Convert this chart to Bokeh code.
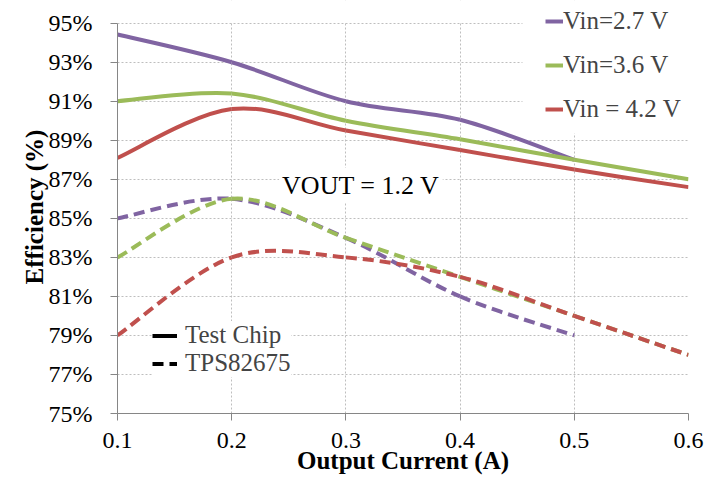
from bokeh.plotting import figure
from bokeh.models import (Range1d, FixedTicker, Legend, LegendItem, Label, BoxAnnotation)
from bokeh.embed import file_html
from bokeh.resources import INLINE

# ---- data ----
current = [0.1, 0.2, 0.3, 0.4, 0.5, 0.6]
test_27 = [94.42, 93.0, 91.0, 90.05, 88.0]          # Vin=2.7 V, Test Chip (to 0.5 A)
test_36 = [91.0, 91.4, 90.0, 89.05, 88.0, 87.0]      # Vin=3.6 V, Test Chip
test_42 = [88.1, 90.6, 89.5, 88.5, 87.5, 86.6]       # Vin=4.2 V, Test Chip
tps_27 = [85.0, 86.0, 84.0, 81.0, 79.0]              # Vin=2.7 V, TPS82675 (to 0.5 A)
tps_36 = [83.0, 86.0, 84.0, 82.0, 80.0, 78.0]        # Vin=3.6 V, TPS82675
tps_42 = [79.0, 83.0, 83.0, 82.0, 80.0, 78.0]        # Vin=4.2 V, TPS82675
y_ticks = [75, 77, 79, 81, 83, 85, 87, 89, 91, 93, 95]
x_ticks = [0.1, 0.2, 0.3, 0.4, 0.5, 0.6]
series_labels = ["Vin=2.7 V", "Vin=3.6 V", "Vin = 4.2 V"]
type_labels = ["Test Chip", "TPS82675"]

PURPLE = "#8064A2"
GREEN = "#9BBB59"
RED = "#C0504D"
FONT = "Liberation Serif"

Y_MIN, Y_MAX = 75, 95
FRAME_H = 413          # frame reaches the top of the page so the legend is not clipped
AXIS_TOP_PX = 22.7     # where 95 % sits below the page top
y_end = Y_MAX + (Y_MAX - Y_MIN) * AXIS_TOP_PX / (FRAME_H - AXIS_TOP_PX)


def smooth_segments(xs, ys):
    """Excel-like smoothed line: cubic Bezier control points (Catmull-Rom, 1/6)."""
    n = len(xs)
    d = dict(x0=[], y0=[], x1=[], y1=[], cx0=[], cy0=[], cx1=[], cy1=[])
    for i in range(n - 1):
        i0 = max(i - 1, 0)
        i3 = min(i + 2, n - 1)
        d["x0"].append(xs[i]); d["y0"].append(ys[i])
        d["x1"].append(xs[i + 1]); d["y1"].append(ys[i + 1])
        d["cx0"].append(xs[i] + (xs[i + 1] - xs[i0]) / 6)
        d["cy0"].append(ys[i] + (ys[i + 1] - ys[i0]) / 6)
        d["cx1"].append(xs[i + 1] - (xs[i3] - xs[i]) / 6)
        d["cy1"].append(ys[i + 1] - (ys[i3] - ys[i]) / 6)
    return d


p = figure(width=706, height=479, output_backend="svg", toolbar_location=None,
           x_range=Range1d(0.1, 0.6), y_range=Range1d(Y_MIN, y_end),
           min_border_left=117, min_border_right=18, min_border_top=0,
           min_border_bottom=479 - FRAME_H)
p.outline_line_color = None
p.background_fill_color = "white"

# grid
for g in (p.xgrid, p.ygrid):
    g.grid_line_color = "#BEBEBE"
    g.grid_line_dash = "2 2"
    g.grid_line_width = 1
p.xgrid.ticker = FixedTicker(ticks=x_ticks)
p.ygrid.ticker = FixedTicker(ticks=y_ticks)

# axes
p.xaxis.ticker = FixedTicker(ticks=x_ticks)
p.yaxis.ticker = FixedTicker(ticks=y_ticks)
p.yaxis.bounds = (Y_MIN, Y_MAX)
p.yaxis.major_label_overrides = {t: f"{t}%" for t in y_ticks}
for ax in (p.xaxis[0], p.yaxis[0]):
    ax.axis_line_color = "#868686"
    ax.major_tick_line_color = "#868686"
    ax.major_tick_out = 7
    ax.major_tick_in = 0
    ax.minor_tick_line_color = None
    ax.major_label_text_font = FONT
    ax.major_label_text_color = "black"
    ax.axis_label_text_font = FONT
    ax.axis_label_text_font_style = "bold"
    ax.axis_label_text_font_size = "25px"
    ax.axis_label_text_color = "black"
p.xaxis.major_label_text_font_size = "24px"
p.yaxis.major_label_text_font_size = "24px"
p.xaxis.major_label_standoff = 12
p.yaxis.major_label_standoff = 18
p.xaxis.axis_label = "Output Current (A)"
p.yaxis.axis_label = "Efficiency (%)"
p.xaxis.axis_label_standoff = -4
p.yaxis.axis_label_standoff = -2

# white areas: above the 95 % line, and behind the top-right legend
p.add_layout(BoxAnnotation(bottom=Y_MAX + 0.03, fill_color="white", fill_alpha=1.0,
                           line_alpha=0, level="underlay"))
p.add_layout(BoxAnnotation(left=0.4546, bottom=89.35, fill_color="white", fill_alpha=1.0,
                           line_alpha=0, level="underlay"))

# series
W = 4
r27 = p.bezier(source=smooth_segments(current[:len(test_27)], test_27), x0="x0", y0="y0",
               x1="x1", y1="y1", cx0="cx0", cy0="cy0", cx1="cx1", cy1="cy1",
               line_color=PURPLE, line_width=W)
r36 = p.bezier(source=smooth_segments(current, test_36), x0="x0", y0="y0",
               x1="x1", y1="y1", cx0="cx0", cy0="cy0", cx1="cx1", cy1="cy1",
               line_color=GREEN, line_width=W)
r42 = p.bezier(source=smooth_segments(current, test_42), x0="x0", y0="y0",
               x1="x1", y1="y1", cx0="cx0", cy0="cy0", cx1="cx1", cy1="cy1",
               line_color=RED, line_width=W)
DASH = "11 6"
for ys, c in ((tps_27, PURPLE), (tps_36, GREEN), (tps_42, RED)):
    p.bezier(source=smooth_segments(current[:len(ys)], ys), x0="x0", y0="y0",
             x1="x1", y1="y1", cx0="cx0", cy0="cy0", cx1="cx1", cy1="cy1",
             line_color=c, line_width=W, line_dash=DASH)

# legend: Vin series
leg1 = Legend(items=[LegendItem(label=series_labels[0], renderers=[r27]),
                     LegendItem(label=series_labels[1], renderers=[r36]),
                     LegendItem(label=series_labels[2], renderers=[r42])],
              location=(428, 282), orientation="vertical",
              glyph_width=18, glyph_height=44, label_height=44, spacing=0,
              padding=0, margin=0, label_standoff=0,
              label_text_font=FONT, label_text_font_size="25px",
              background_fill_alpha=0, border_line_color=None)
p.add_layout(leg1, "center")

# legend: chip type (legend-only renderers, a single non-drawable point each)
nan = float("nan")
k_solid = p.line(x=[nan], y=[nan], line_color="black", line_width=W)
k_dash = p.line(x=[nan], y=[nan], line_color="black", line_width=W, line_dash=DASH)
leg2 = Legend(items=[LegendItem(label=type_labels[0], renderers=[k_solid]),
                     LegendItem(label=type_labels[1], renderers=[k_dash])],
              location=(35, 36), orientation="vertical",
              glyph_width=25, glyph_height=25, label_height=25, spacing=0,
              padding=4, margin=0, label_standoff=8,
              label_text_font=FONT, label_text_font_size="25px",
              background_fill_color="white", background_fill_alpha=1.0,
              border_line_color=None)
p.add_layout(leg2, "center")

p.add_layout(Label(x=0.2415, y=86.69, text="VOUT = 1.2 V", text_font=FONT,
                   text_font_size="26px", text_color="black", text_baseline="alphabetic",
                   background_fill_color="white", background_fill_alpha=1.0, padding=3))

open("out.html", "w").write(file_html(p, INLINE))
